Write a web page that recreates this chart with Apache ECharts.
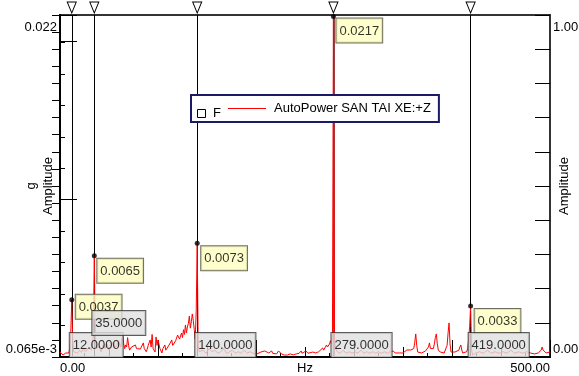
<!DOCTYPE html>
<html><head><meta charset="utf-8">
<script src="https://cdn.jsdelivr.net/npm/echarts@6/dist/echarts.min.js"></script>
<style>html,body{margin:0;padding:0;background:#fff}#c{width:579px;height:376px}</style>
</head><body><div id="c"></div>
<script>
// ---- data ----
const freqHz = [0,1,2,3,4,5,6,7,8,9,10,11,12,13,14,15,16,18,20,22,24,26,28,30,32,33,34,35,36,37,38,40,42,44,46,48,50,52,54,56,58,60,62,
64,65,66,67,68,69,70,71,72,73,75,77,78,80,82,83,85,86,88,89,90,92,93,94,95,97,98,99,100,102,104,105,107,108,110,112,114,115,117,118,120,122,124,125,126,127,128,129,130,131,132,133,134,135,136,137,138,139,140,141,142,
143,146,149,152,155,158,161,164,167,170,173,176,179,182,185,188,191,194,197,
199,201,203,205,207,209,210,211,213,215,216,217,219,221,223,224,226,229,232,235,238,241,243,244,246,247,249,251,252,253,255,258,261,264,266,268,269,271,272,273,275,276,277,278,279,280,281,
283,286,289,292,295,298,301,304,307,310,313,316,319,322,325,328,331,334,337,
340,342,344,346,348,350,352,354,356,358,360,361,362,363,364,365,367,369,371,373,375,376,377,378,380,381,382,383,384,385,386,388,390,392,394,395,396,397,398,399,401,403,405,407,408,409,410,411,413,415,416,417,418,419,420,421,
424,428,432,436,440,444,448,452,456,460,464,468,472,476,
478,480,482,484,486,488,490,491,492,493,494,496,498,500];
const ampG = [0.00038,0.00045,0.00026,0.00019,0.00026,0.00019,0.00032,0.00026,0.00038,0.00032,0.0006,0.0016,0.0037,0.0011,0.0004,0.0003,0.00045,0.0003,0.0005,0.00035,0.0006,0.0004,0.0005,0.0007,0.0005,0.0009,0.0014,0.0065,0.0012,0.0006,0.0005,0.0007,0.0004,0.0008,0.0006,0.0009,0.0005,0.0007,0.0010,0.0006,0.0008,0.0011,0.0007,
0.00146,0.0009,0.0006,0.00083,0.0007,0.0013,0.0008,0.0005,0.00051,0.0007,0.0006,0.00083,0.0006,0.0005,0.00057,0.0005,0.00096,0.0006,0.0004,0.00057,0.0008,0.00115,0.0007,0.0015,0.0006,0.00038,0.00134,0.0008,0.00115,0.0006,0.00032,0.0006,0.00083,0.0005,0.00051,0.0009,0.00115,0.0008,0.00083,0.0011,0.00146,0.0012,0.00159,0.0013,0.0018,0.0015,0.0021,0.0016,0.00197,0.0022,0.00267,0.0019,0.0023,0.0028,0.0024,0.0018,0.0012,0.0030,0.0073,0.0008,0.0004,
0.0003,0.0005,0.0003,0.0006,0.0004,0.0005,0.0003,0.0004,0.0006,0.0003,0.0004,0.0005,0.0003,0.0004,0.0003,0.0005,0.0003,0.0004,0.0003,
0.00032,0.00026,0.00032,0.00038,0.0003,0.00045,0.00051,0.0004,0.00032,0.0004,0.00045,0.0003,0.00026,0.00026,0.00045,0.0004,0.00026,0.00019,0.00019,0.00026,0.0002,0.00026,0.00038,0.0003,0.00045,0.0003,0.00032,0.00045,0.00051,0.0003,0.00032,0.00038,0.00032,0.0004,0.0005,0.00064,0.0005,0.0006,0.00083,0.0007,0.00089,0.0011,0.0009,0.0015,0.0217,0.0012,0.0006,
0.0004,0.0003,0.0005,0.0003,0.0004,0.0003,0.0004,0.0003,0.0005,0.0003,0.0004,0.0003,0.0004,0.0003,0.0004,0.0003,0.0004,0.0003,0.0004,
0.00045,0.00032,0.00026,0.00032,0.00026,0.00032,0.00038,0.00051,0.00045,0.00051,0.00045,0.0006,0.001,0.00153,0.0008,0.00038,0.00038,0.00032,0.0004,0.00045,0.0005,0.0007,0.00096,0.0006,0.00051,0.0006,0.0009,0.0013,0.00153,0.0009,0.00051,0.00038,0.00038,0.00032,0.0004,0.0008,0.0016,0.00223,0.0009,0.00038,0.00026,0.00038,0.00032,0.0005,0.0007,0.00083,0.0005,0.00032,0.0003,0.0004,0.0006,0.0012,0.0020,0.0033,0.0005,0.0002,
0.0003,0.0004,0.0003,0.0005,0.0003,0.0004,0.0003,0.0004,0.0003,0.0005,0.0003,0.0004,0.0003,0.0004,
0.00038,0.00032,0.00038,0.00026,0.00032,0.00032,0.00038,0.0005,0.0007,0.0005,0.00038,0.00032,0.00038,0.00038];
const cursorHz = [12, 35, 140, 279, 419];
const cursorAmp = [0.0037, 0.0065, 0.0073, 0.0217, 0.0033];
const leftTickLabels = ['0.065e-3', '0.022'];
const rightTickLabels = ['0.00', '1.00'];
const xTickLabels = ['0.00', '500.00'];
const seriesName = 'AutoPower SAN TAI XE:+Z';
const xMin = 0, xMax = 500;
const yMin = 0.000065, yMax = 0.0218;

// ---- styles ----
const FONT = "'Liberation Sans', Arial, sans-serif";
const yellowOffsets = [[6.5,-2.5],[5.5,5.5],[6.5,5.5],[5.5,4.5],[6.5,5.5]];
const greyOffsets = [[-1.5,0.5],[-1.5,-21.5],[-1.5,0.5],[-1.5,0.5],[-1.5,0.5]];
const near = (a,b) => Math.abs(a-b) < 1e-9;
const edgeRich = {t:{padding:[6,0,0,0], fontFamily:FONT, fontSize:13, color:'#000'},
                  b:{padding:[0,0,1,0], fontFamily:FONT, fontSize:13, color:'#000'}};

const chart = echarts.init(document.getElementById('c'), null, {renderer:'canvas'});
const hiddenAxis = {axisLine:{show:false}, axisLabel:{show:false}, splitLine:{show:false}};
chart.setOption({
  animation:false,
  backgroundColor:'#fff',
  textStyle:{fontFamily:FONT},
  grid:{left:60, right:29, top:15, bottom:19, containLabel:false, outerBoundsMode:'none',
        show:true, borderColor:'#333', borderWidth:2, backgroundColor:'transparent'},
  legend:{
    data:[{name:seriesName, icon:'path://M0,0H38V1H0Z M41,0', itemStyle:{color:'#ff0000'}}],
    left:191, top:95, orient:'horizontal',
    padding:[7,8,7,37], itemWidth:41, itemHeight:14,
    borderColor:'#1a1a66', borderWidth:2, backgroundColor:'#fff', borderRadius:0,
    textStyle:{fontFamily:FONT, fontSize:13, color:'#000'}, z:20, selectedMode:false
  },
  graphic:[
    {type:'rect', z:100, shape:{x:197.5, y:109.5, width:8, height:8}, style:{fill:'#fff', stroke:'#000', lineWidth:1}},
    {type:'text', z:100, x:213, y:113.5, style:{text:'F', fontFamily:FONT, fontSize:13, fill:'#000', verticalAlign:'middle'}}
  ],
  xAxis:[
    {type:'value', min:xMin, max:xMax, interval:25, position:'bottom',
     name:'Hz', nameLocation:'middle', nameGap:5, nameMoveOverlap:false,
     nameTextStyle:{fontFamily:FONT, fontSize:13, color:'#000', verticalAlign:'top'},
     axisLine:{show:true, lineStyle:{color:'#000', width:2}},
     axisTick:{show:true, inside:true, length:4, lineStyle:{color:'#000'}},
     axisLabel:{margin:5, fontFamily:FONT, fontSize:13, color:'#000',
       alignMinLabel:'left', alignMaxLabel:'right', showMinLabel:true, showMaxLabel:true,
       formatter:v => near(v,xMin) ? xTickLabels[0] : (near(v,xMax) ? xTickLabels[1] : '')},
     splitLine:{show:false}},
    Object.assign({type:'value', min:xMin, max:xMax, interval:50, position:'bottom',
     axisTick:{show:true, inside:true, length:10, lineStyle:{color:'#000'}}}, hiddenAxis),
    Object.assign({type:'value', min:xMin, max:xMax, interval:100, position:'bottom',
     axisTick:{show:true, inside:true, length:17, lineStyle:{color:'#000'}}}, hiddenAxis)
  ],
  yAxis:[
    {type:'value', min:yMin, max:yMax, interval:0.002, position:'left',
     name:'g\nAmplitude', nameLocation:'middle', nameRotate:90, nameGap:3, nameMoveOverlap:false,
     nameTextStyle:{fontFamily:FONT, fontSize:13, color:'#000', lineHeight:17},
     axisLine:{show:true, lineStyle:{color:'#000', width:2}},
     axisTick:{show:true, inside:true, length:5, lineStyle:{color:'#000'}},
     axisLabel:{margin:3, fontFamily:FONT, fontSize:13, color:'#000', rich:edgeRich,
       verticalAlignMinLabel:'bottom', verticalAlignMaxLabel:'top', showMinLabel:true, showMaxLabel:true,
       formatter:v => near(v,yMin) ? '{b|'+leftTickLabels[0]+'}' : (near(v,yMax) ? '{t|'+leftTickLabels[1]+'}' : '')},
     splitLine:{show:false}},
    Object.assign({type:'value', min:yMin, max:yMax, interval:0.01, position:'left',
     axisTick:{show:true, inside:true, length:17, lineStyle:{color:'#000'}}}, hiddenAxis),
    {type:'value', min:0, max:1, interval:0.05, position:'right',
     name:'Amplitude', nameLocation:'middle', nameRotate:90, nameGap:8, nameMoveOverlap:false,
     nameTextStyle:{fontFamily:FONT, fontSize:13, color:'#000'},
     axisLine:{show:true, lineStyle:{color:'#000', width:2}},
     axisTick:{show:true, inside:true, length:8, lineStyle:{color:'#000'}},
     axisLabel:{margin:3, fontFamily:FONT, fontSize:13, color:'#000', rich:edgeRich,
       verticalAlignMinLabel:'bottom', verticalAlignMaxLabel:'top', showMinLabel:true, showMaxLabel:true,
       formatter:v => near(v,0) ? '{b|'+rightTickLabels[0]+'}' : (near(v,1) ? '{t|'+rightTickLabels[1]+'}' : '')},
     splitLine:{show:false}},
    Object.assign({type:'value', min:0, max:1, interval:0.1, position:'right',
     axisTick:{show:true, inside:true, length:15, lineStyle:{color:'#000'}}}, hiddenAxis)
  ],
  series:[
    {name:seriesName, type:'line', xAxisIndex:0, yAxisIndex:0, z:3,
     data:freqHz.map((f,i)=>[f, ampG[i]]), showSymbol:false, symbol:'none',
     lineStyle:{color:'#ff0000', width:1}, itemStyle:{color:'#ff0000'},
     markLine:{silent:true, symbol:['none','none'], label:{show:false}, animation:false, z:2,
       data:cursorHz.map(f=>({xAxis:f, lineStyle:{color: f===279 ? '#7a0000' : '#000', width: f===279 ? 1.5 : 1, type:'solid'}}))},
     markPoint:{silent:true, symbol:'triangle', symbolRotate:180, symbolSize:[9,11], symbolOffset:[0,-7.5],
       itemStyle:{color:'#fff', borderColor:'#000', borderWidth:1}, label:{show:false},
       data:cursorHz.map(f=>({coord:[f, yMax]}))}
    },
    {type:'scatter', xAxisIndex:0, yAxisIndex:0, z:10, symbol:'circle', symbolSize:5, silent:true,
     itemStyle:{color:'#000'},
     data:cursorHz.map((f,i)=>({value:[f, cursorAmp[i]],
       label:{show:true, position:yellowOffsets[i], align:'left', verticalAlign:'top',
         formatter:p=>p.value[1].toFixed(4), fontFamily:FONT, fontSize:13, color:'#000',
         backgroundColor:'#ffffc0', borderColor:'#4a4a3a', borderWidth:1, padding:[6,3,5,3]}}))},
    {type:'scatter', xAxisIndex:0, yAxisIndex:0, z:11, symbol:'rect', symbolSize:1, silent:true,
     itemStyle:{color:'rgba(0,0,0,0)'},
     data:cursorHz.map((f,i)=>({value:[f, yMin],
       label:{show:true, position:greyOffsets[i], align:'left', verticalAlign:'bottom',
         formatter:p=>p.value[0].toFixed(4), fontFamily:FONT, fontSize:13, color:'#000',
         backgroundColor:'#e0e0e0', borderColor:'#333', borderWidth:1, padding:[6,3,5,3]}}))}
  ]
});
</script></body></html>
